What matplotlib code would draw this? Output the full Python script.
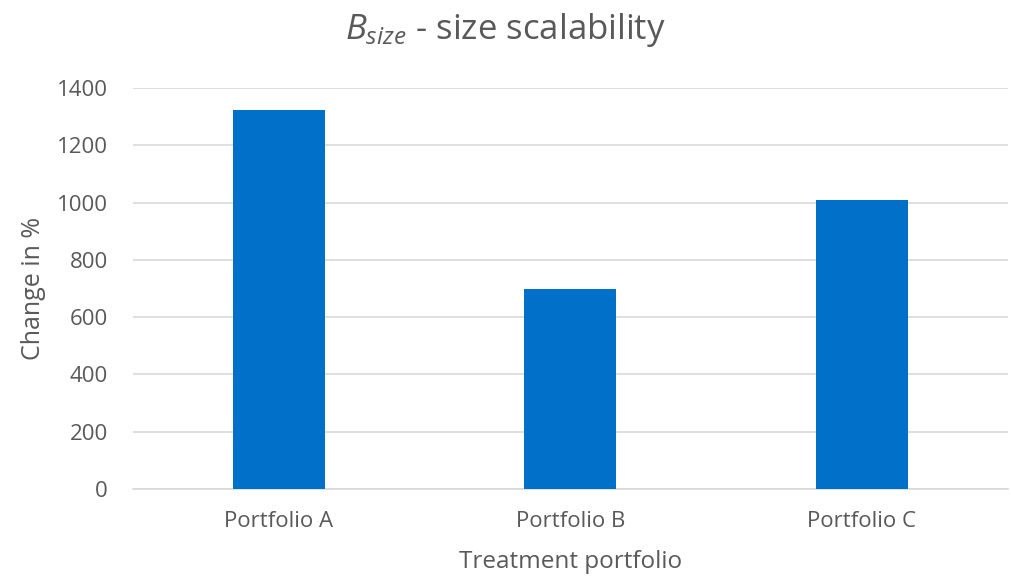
import matplotlib
matplotlib.use("Agg")
import matplotlib.pyplot as plt

categories = ["Portfolio A", "Portfolio B", "Portfolio C"]
values = [1323, 698, 1010]
yticks = [0, 200, 400, 600, 800, 1000, 1200, 1400]

FONT = "Open Sans"
GRAY = "#595959"
plt.rcParams["font.family"] = [FONT, "DejaVu Sans"]
plt.rcParams["mathtext.fontset"] = "custom"
plt.rcParams["mathtext.it"] = FONT + ":italic"
plt.rcParams["mathtext.rm"] = FONT

fig = plt.figure(figsize=(10.11, 5.8), dpi=100)
ax = fig.add_axes([0.1316, 0.157, 0.865, 0.691])

x = range(len(categories))
ax.bar(x, values, width=0.315, color="#0070C8", zorder=3)
ax.set_xlim(-0.5, 2.5)
ax.set_ylim(0, 1400)
ax.set_yticks(yticks)
ax.set_xticks(list(x))
ax.set_xticklabels(categories)
ax.grid(axis="y", color="#D9D9D9", linewidth=1.2, zorder=0)
for s in ["top", "right", "left"]:
    ax.spines[s].set_visible(False)
ax.spines["bottom"].set_color("#D9D9D9")
ax.spines["bottom"].set_linewidth(1.2)
ax.tick_params(axis="both", length=0, labelsize=16, colors=GRAY)
ax.tick_params(axis="x", pad=16)
ax.tick_params(axis="y", pad=18)
ax.set_ylabel("Change in %", fontsize=18, color=GRAY, labelpad=8)
ax.set_xlabel("Treatment portfolio", fontsize=17.5, color=GRAY, labelpad=13)

fig.text(0.5, 0.948, r"$B_{size}$ - size scalability", ha="center", va="center",
         fontsize=25, color=GRAY)

fig.savefig("out.png", dpi=100)
